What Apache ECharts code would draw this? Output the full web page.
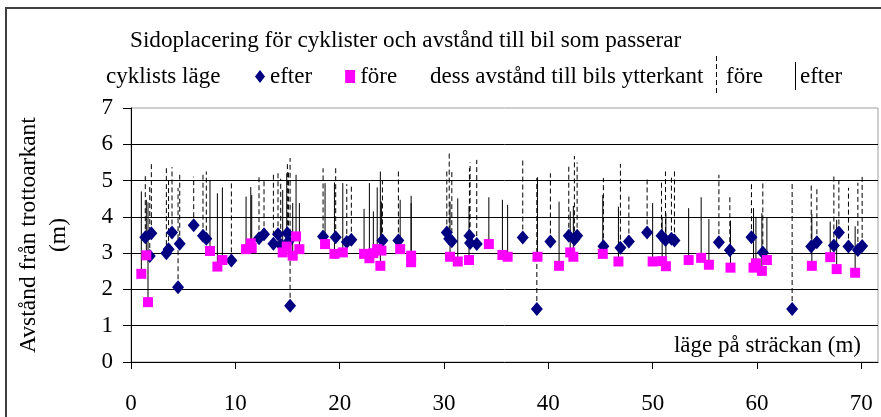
<!DOCTYPE html>
<html><head><meta charset="utf-8">
<script src="https://cdn.jsdelivr.net/npm/echarts@6/dist/echarts.min.js"></script>
<style>html,body{margin:0;padding:0;background:#fff}#c{width:881px;height:417px}</style>
</head><body><div id="c"></div>
<script>
const titleText = 'Sidoplacering för cyklister och avstånd till bil som passerar';
const yAxisName = 'Avstånd från trottoarkant\n(m)';
const xAxisName = 'läge på sträckan (m)';
const xTicks = [0, 10, 20, 30, 40, 50, 60, 70];
const yTicks = [0, 1, 2, 3, 4, 5, 6, 7];

// efter: cyclist position (diamonds) and top of the distance line (dashed)
const efterX   = [1.37, 1.8, 1.95, 3.39, 3.6, 3.93, 4.51, 4.67, 6.01, 6.9, 7.22, 9.62, 12.27, 12.75, 13.65, 14.09, 14.35, 14.99, 15.1, 15.25, 18.41, 19.62, 20.68, 21.12, 24.1, 25.63, 30.27, 30.5, 30.75, 32.44, 32.5, 33.14, 37.55, 38.9, 40.2, 41.96, 42.5, 42.76, 45.28, 46.91, 47.72, 49.47, 50.85, 51.23, 51.8, 52.09, 56.35, 57.4, 59.47, 60.56, 63.37, 65.2, 65.74, 67.37, 67.85, 68.77, 69.67, 70.08];
const efterY   = [3.44, 2.92, 3.55, 3.0, 3.11, 3.57, 2.06, 3.26, 3.77, 3.48, 3.40, 2.80, 3.41, 3.52, 3.26, 3.52, 3.23, 3.55, 3.32, 1.55, 3.46, 3.44, 3.31, 3.37, 3.35, 3.35, 3.57, 3.4, 3.33, 3.48, 3.28, 3.25, 3.43, 1.46, 3.32, 3.48, 3.38, 3.48, 3.19, 3.15, 3.32, 3.57, 3.48, 3.36, 3.40, 3.35, 3.30, 3.08, 3.44, 3.02, 1.46, 3.18, 3.30, 3.21, 3.57, 3.18, 3.09, 3.2];
const efterTop = [5.2, 4.84, 5.48, 5.34, 5.07, 5.37, 4.8, 5.16, 5.11, 5.16, 5.25, 4.97, 5.11, 5.0, 5.16, 5.24, 5.05, 5.48, 5.3, 5.62, 5.34, 5.34, 4.9, 4.84, 5.0, 5.25, 5.3, 5.75, 5.25, 5.34, 5.5, 5.57, 5.62, 5.07, 5.2, 5.39, 5.68, 5.5, 5.07, 5.46, 4.64, 5.04, 4.97, 5.25, 5.16, 5.27, 5.16, 4.57, 4.93, 4.92, 4.94, 4.92, 4.8, 5.12, 5.0, 4.8, 4.94, 5.13];

// före: cyclist position (squares) and top of the distance line (solid)
const foreX   = [0.99, 1.47, 1.63, 7.57, 8.28, 8.76, 11.03, 11.48, 11.57, 14.54, 14.93, 15.5, 15.82, 16.14, 18.6, 19.5, 20.3, 22.34, 22.85, 23.23, 23.6, 24.0, 23.9, 25.8, 26.85, 26.85, 30.58, 31.32, 32.4, 34.3, 35.6, 36.1, 38.96, 41.03, 42.1, 42.4, 45.22, 46.72, 50.0, 50.91, 51.27, 53.45, 54.65, 55.39, 57.46, 59.67, 59.9, 60.47, 60.95, 65.26, 67.02, 67.64, 69.41];
const foreY   = [2.43, 2.94, 1.65, 3.06, 2.63, 2.81, 3.11, 3.27, 3.14, 3.02, 3.18, 2.93, 3.46, 3.11, 3.25, 2.98, 3.02, 2.98, 2.86, 3.0, 3.11, 3.07, 2.65, 3.11, 2.93, 2.75, 2.9, 2.77, 2.81, 3.25, 2.95, 2.9, 2.9, 2.65, 3.02, 2.9, 2.98, 2.77, 2.77, 2.78, 2.64, 2.81, 2.87, 2.68, 2.6, 2.6, 2.72, 2.51, 2.81, 2.65, 2.89, 2.56, 2.46];
const foreTop = [4.7, 4.47, 4.4, 5.0, 4.65, 4.81, 4.56, 4.82, 4.6, 4.74, 5.2, 4.38, 5.16, 4.38, 4.93, 4.95, 4.93, 4.22, 4.93, 4.15, 4.81, 4.42, 5.25, 4.47, 4.58, 4.38, 4.42, 4.51, 4.3, 4.54, 4.47, 4.33, 5.09, 4.42, 4.15, 4.3, 4.6, 4.28, 4.38, 3.98, 4.1, 4.24, 4.54, 3.94, 3.9, 4.24, 4.0, 4.1, 3.98, 4.08, 3.87, 3.92, 3.74];

const FONT = '"Liberation Serif", "Times New Roman", serif';
const chart = echarts.init(document.getElementById('c'), null, {renderer: 'canvas'});

function lineRenderer(dashed) {
  return function (params, api) {
    const p0 = api.coord([api.value(0), api.value(1)]);
    const p1 = api.coord([api.value(0), api.value(2)]);
    return {
      type: 'line',
      shape: {x1: p0[0], y1: p0[1], x2: p1[0], y2: p1[1]},
      style: {stroke: '#000', lineWidth: 1, lineDash: dashed ? [5, 3] : null}
    };
  };
}

const option = {
  animation: false,
  backgroundColor: '#fff',
  textStyle: {fontFamily: FONT},
  title: {
    text: titleText, left: 130, top: 29, padding: 0,
    textStyle: {fontFamily: FONT, fontSize: 23.2, fontWeight: 'normal', color: '#000'}
  },
  legend: {
    data: ['efter', 'före'], left: 255, top: 65, padding: 0,
    itemWidth: 10, itemHeight: 13, itemGap: 33,
    textStyle: {fontFamily: FONT, fontSize: 23, color: '#000', padding: [0, 0, 0, 0]}
  },
  grid: {left: 131, top: 108, right: 3, bottom: 55, show: true, borderColor: '#a0a0a0', borderWidth: 1, containLabel: false},
  xAxis: {
    type: 'value', min: 0, max: 71.6,
    name: xAxisName, nameLocation: 'end', nameGap: -17,
    nameTextStyle: {fontFamily: FONT, fontSize: 23, color: '#000', align: 'right', verticalAlign: 'bottom', padding: [0, 0, 5, 0]},
    axisLine: {lineStyle: {color: '#000', width: 1}},
    axisTick: {show: true, length: 7, inside: false, customValues: xTicks, lineStyle: {color: '#000'}},
    axisLabel: {customValues: xTicks, margin: 30, fontFamily: FONT, fontSize: 23, color: '#000'},
    splitLine: {show: false}
  },
  yAxis: {
    type: 'value', min: 0, max: 7, interval: 1,
    name: yAxisName, nameLocation: 'middle', nameGap: 57, nameRotate: 90,
    nameTextStyle: {fontFamily: FONT, fontSize: 23.5, color: '#000', lineHeight: 30},
    axisLine: {show: true, lineStyle: {color: '#000', width: 1}},
    axisTick: {show: true, length: 8, lineStyle: {color: '#000'}},
    axisLabel: {margin: 18, fontFamily: FONT, fontSize: 23, color: '#000',
      formatter: v => (yTicks.indexOf(v) >= 0 ? String(v) : '')},
    splitLine: {show: true, showMinLine: false, showMaxLine: false, lineStyle: {color: '#000', width: 1}}
  },
  series: [
    {
      name: 'efterLinjer', type: 'custom', z: 1, silent: true,
      renderItem: lineRenderer(true), encode: {x: 0, y: [1, 2]},
      data: efterX.map((x, i) => [x, efterY[i], efterTop[i]])
    },
    {
      name: 'föreLinjer', type: 'custom', z: 1, silent: true,
      renderItem: lineRenderer(false), encode: {x: 0, y: [1, 2]},
      data: foreX.map((x, i) => [x, foreY[i], foreTop[i]])
    },
    {
      name: 'efter', type: 'scatter', z: 3, symbol: 'diamond', symbolSize: [12, 14],
      itemStyle: {color: '#000080', opacity: 1},
      data: efterX.map((x, i) => [x, efterY[i]])
    },
    {
      name: 'före', type: 'scatter', z: 4, symbol: 'rect', symbolSize: [10, 10],
      itemStyle: {color: '#ff00ff', opacity: 1},
      data: foreX.map((x, i) => [x, foreY[i]])
    }
  ],
  graphic: [
    {type: 'rect', shape: {x: 6, y: 8, width: 900, height: 430}, style: {fill: null, stroke: '#404040', lineWidth: 2}, silent: true},
    {type: 'text', left: 106, top: 65, style: {text: 'cyklists läge', font: '23px ' + FONT, fill: '#000'}},
    {type: 'text', left: 430, top: 65, style: {text: 'dess avstånd till bils ytterkant', font: '23px ' + FONT, fill: '#000'}},
    {type: 'line', shape: {x1: 716.5, y1: 56, x2: 716.5, y2: 94}, style: {stroke: '#000', lineWidth: 1, lineDash: [5, 3]}},
    {type: 'text', left: 726, top: 65, style: {text: 'före', font: '23px ' + FONT, fill: '#000'}},
    {type: 'line', shape: {x1: 795.5, y1: 62, x2: 795.5, y2: 90}, style: {stroke: '#000', lineWidth: 1}},
    {type: 'text', left: 800, top: 65, style: {text: 'efter', font: '23px ' + FONT, fill: '#000'}}
  ]
};
chart.setOption(option);
</script>
</body></html>
